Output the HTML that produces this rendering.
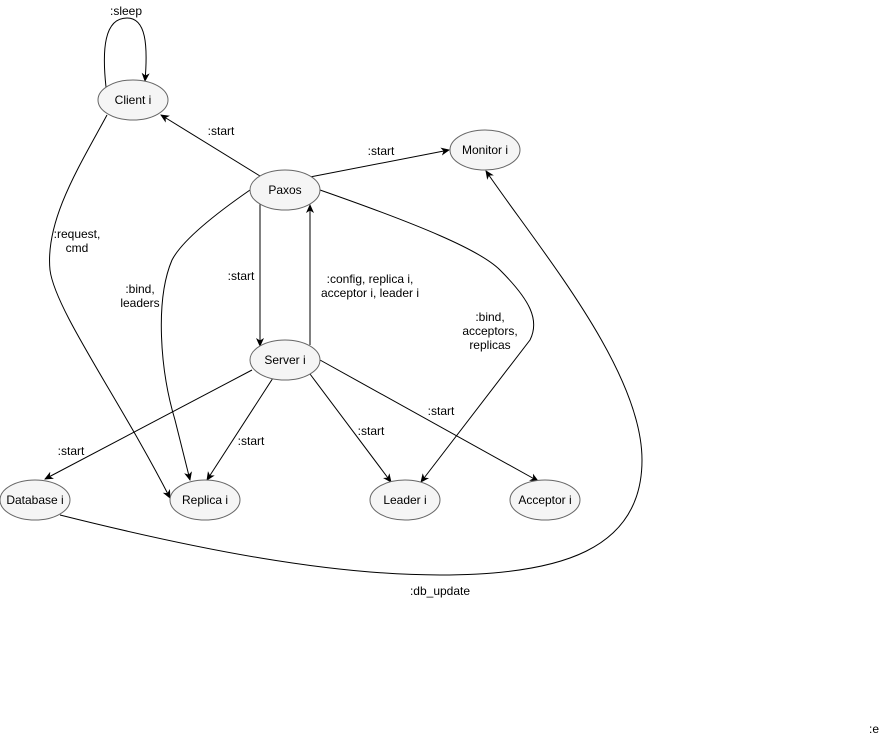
<!DOCTYPE html>
<html><head><style>body{margin:0;background:#fff}svg{display:block}</style></head><body>
<svg width="884" height="736" xmlns="http://www.w3.org/2000/svg" font-family="Liberation Sans, sans-serif" font-size="12">
<defs><marker id="a" markerWidth="10" markerHeight="10" refX="8" refY="5" orient="auto" markerUnits="userSpaceOnUse"><path d="M0,1 L9,5 L0,9 L2.5,5 Z" fill="#000"/></marker></defs>
<g stroke="#000" fill="none" stroke-width="1" marker-end="url(#a)">
<path d="M106,87 C102,50 104,18 127,18 C146,18 148,45 145,81"/>
<path d="M260,176 L161,115"/>
<path d="M310,177 L449,150"/>
<path d="M260,204 L260,346"/>
<path d="M310,345 L310,205"/>
<path d="M250,190 Q185,235 172,260 C155,300 160,370 175,420 L190,480"/>
<path d="M320,190 C420,225 480,250 500,270 C530,300 540,320 530,340 L421,482"/>
<path d="M107,115 C80,165 45,220 50,270 C55,310 120,400 170,498"/>
<path d="M252,370 L45,479"/>
<path d="M273,378 L207,480"/>
<path d="M310,374 L391,482"/>
<path d="M320,360 L538,481"/>
<path d="M60,515 C200,550 330,575 440,575 C560,575 642,550 642,460 C642,370 540,250 486,171"/>
</g>
<g fill="#f5f5f5" stroke="#666" stroke-width="1">
<ellipse cx="133" cy="100" rx="35" ry="20"/>
<ellipse cx="285" cy="190" rx="35" ry="20"/>
<ellipse cx="485" cy="150" rx="35" ry="20"/>
<ellipse cx="285" cy="360" rx="35" ry="20"/>
<ellipse cx="35" cy="500" rx="35" ry="20"/>
<ellipse cx="205" cy="500" rx="35" ry="20"/>
<ellipse cx="405" cy="500" rx="35" ry="20"/>
<ellipse cx="545" cy="500" rx="35" ry="20"/>
</g>
<g text-anchor="middle" fill="#000">
<text x="133" y="104">Client i</text>
<text x="285" y="194">Paxos</text>
<text x="485" y="154">Monitor i</text>
<text x="285" y="364">Server i</text>
<text x="35" y="504">Database i</text>
<text x="205" y="504">Replica i</text>
<text x="405" y="504">Leader i</text>
<text x="545" y="504">Acceptor i</text>
<text x="126" y="15">:sleep</text>
<text x="221" y="135">:start</text>
<text x="381" y="155">:start</text>
<text x="77" y="238">:request,</text><text x="77" y="252">cmd</text>
<text x="140" y="293">:bind,</text><text x="140" y="307">leaders</text>
<text x="241" y="280">:start</text>
<text x="370" y="283">:config, replica i,</text><text x="370" y="297">acceptor i, leader i</text>
<text x="490" y="321">:bind,</text><text x="490" y="335">acceptors,</text><text x="490" y="349">replicas</text>
<text x="71" y="455">:start</text>
<text x="251" y="445">:start</text>
<text x="371" y="435">:start</text>
<text x="441" y="415">:start</text>
<text x="440" y="595">:db_update</text>
<text x="874" y="733">:e</text>
</g>
</svg>
</body></html>
